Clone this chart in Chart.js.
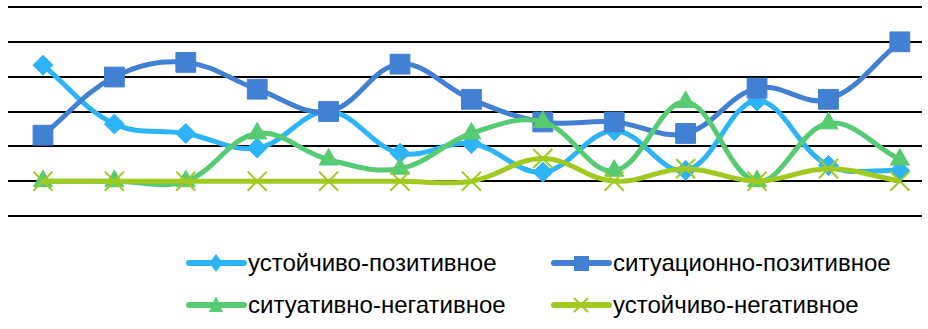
<!DOCTYPE html>
<html>
<head>
<meta charset="utf-8">
<script src="https://cdn.jsdelivr.net/npm/chart.js@4/dist/chart.umd.min.js"></script>
<style>
  html, body { margin: 0; padding: 0; background: #fff; }
  #wrap { position: relative; width: 928px; height: 329px; }
  #chartBox { position: absolute; left: 0; top: 0; width: 928px; height: 230px; }
  .item { position: absolute; height: 30px; display: flex; align-items: center;
    font-family: "Liberation Sans", Arial, sans-serif; font-size: 24px; color: #000; white-space: nowrap; }
  .item svg { margin-right: 1px; }
</style>
</head>
<body>
<div id="wrap">
  <div id="chartBox"><canvas id="myChart"></canvas></div>
  <div id="legend"></div>
</div>
<script>
// categories (13 points, no labels shown)
var labels = ['1', '2', '3', '4', '5', '6', '7', '8', '9', '10', '11', '12', '13'];

var seriesNames = ['устойчиво-позитивное', 'ситуационно-позитивное', 'ситуативно-негативное', 'устойчиво-негативное'];

var stablePositive = [4.33, 2.64, 2.37, 1.95, 3.0, 1.8, 2.08, 1.26, 2.45, 1.31, 3.3, 1.45, 1.3];
var situationalPositive = [2.32, 3.99, 4.41, 3.64, 3.0, 4.36, 3.35, 2.7, 2.7, 2.37, 3.67, 3.35, 5.0];
var situativeNegative = [1.0, 1.0, 1.0, 2.37, 1.62, 1.36, 2.37, 2.7, 1.3, 3.27, 1.0, 2.66, 1.62];
var stableNegative = [1.0, 1.0, 1.0, 1.0, 1.0, 1.0, 1.0, 1.65, 1.0, 1.36, 1.0, 1.36, 1.0];

var yTicks = [0, 1, 2, 3, 4, 5, 6];

var colors = ['#2db4f8', '#4280d4', '#56cb71', '#a0ca20'];
var styles = ['rectRot', 'rect', 'triangle', 'crossRot'];
var radii = [10, 14, 11, 13.5];

function makeSet(i, data) {
  return {
    label: seriesNames[i],
    // category index -> x, so the grid can run wider than the first/last point
    data: data.map(function (v, k) { return { x: k, y: v }; }),
    borderColor: colors[i],
    backgroundColor: colors[i],
    borderWidth: 5,
    tension: 0.38,
    fill: false,
    pointStyle: styles[i],
    pointRadius: radii[i],
    pointHoverRadius: radii[i],
    pointBorderWidth: i === 3 ? 2 : 1,
    pointBorderColor: colors[i],
    pointBackgroundColor: colors[i],
    order: 4 - i,
    clip: false
  };
}

var ctx = document.getElementById('myChart').getContext('2d');
var myChart = new Chart(ctx, {
  type: 'line',
  data: {
    labels: labels,
    datasets: [
      makeSet(0, stablePositive),
      makeSet(1, situationalPositive),
      makeSet(2, situativeNegative),
      makeSet(3, stableNegative)
    ]
  },
  options: {
    responsive: true,
    maintainAspectRatio: false,
    animation: false,
    layout: { autoPadding: false, padding: { left: 8, right: 6, top: 7, bottom: 14 } },
    plugins: { legend: { display: false }, tooltip: { enabled: false } },
    scales: {
      x: { type: 'linear', display: false, min: -0.49, max: 12.31 },
      y: {
        min: yTicks[0],
        max: yTicks[yTicks.length - 1],
        afterBuildTicks: function (axis) { axis.ticks = yTicks.map(function (v) { return { value: v }; }); },
        ticks: { display: false },
        border: { display: false },
        grid: { color: '#000', lineWidth: 2, drawTicks: false }
      }
    }
  }
});

// legend laid out like the original: two aligned columns
function markerSvg(i) {
  var c = colors[i];
  var s = '<svg width="61" height="30" viewBox="0 0 61 30">' +
    '<line x1="3" y1="15" x2="58" y2="15" stroke="' + c + '" stroke-width="6" stroke-linecap="round"/>';
  if (i === 0) s += '<polygon points="30,6 37,15 30,24 23,15" fill="' + c + '"/>';
  if (i === 1) s += '<rect x="23" y="8" width="15" height="15" fill="' + c + '"/>';
  if (i === 2) s += '<polygon points="30,6 37,22 23,22" fill="' + c + '"/>';
  if (i === 3) s += '<path d="M23,8 L37,22 M37,8 L23,22" stroke="' + c + '" stroke-width="2"/>';
  return s + '</svg>';
}
var legendPos = [[186, 248], [551, 248], [186, 290], [551, 290]];
var legendHtml = '';
for (var i = 0; i < seriesNames.length; i++) {
  legendHtml += '<div class="item" style="left:' + legendPos[i][0] + 'px;top:' + legendPos[i][1] + 'px">' +
    markerSvg(i) + '<span>' + seriesNames[i] + '</span></div>';
}
document.getElementById('legend').innerHTML = legendHtml;
</script>
</body>
</html>
